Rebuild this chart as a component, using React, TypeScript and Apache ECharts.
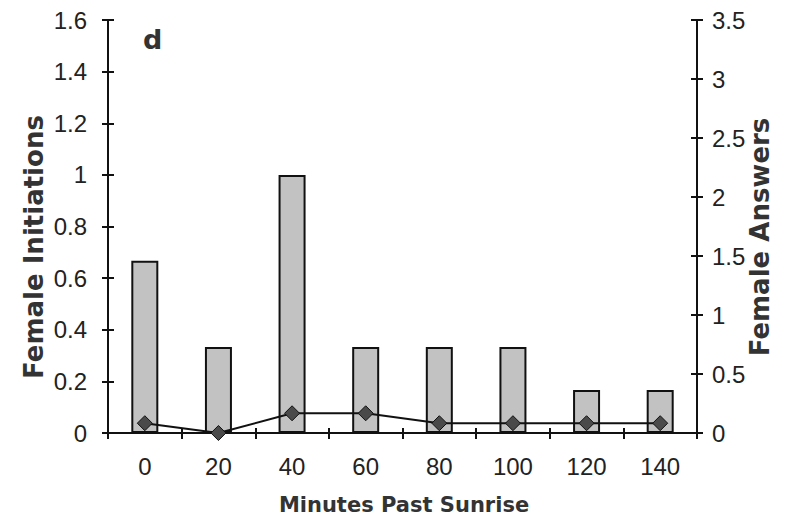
import React, { useEffect, useRef } from "react";
import * as echarts from "echarts";

const categories = ["0", "20", "40", "60", "80", "100", "120", "140"];
const femaleInitiations = [0.667, 0.333, 1.0, 0.333, 0.333, 0.333, 0.167, 0.167];
const femaleAnswers = [0.083, 0, 0.167, 0.167, 0.083, 0.083, 0.083, 0.083];
const panelLabel = "d";
const xTitle = "Minutes Past Sunrise";
const leftTitle = "Female Initiations";
const rightTitle = "Female Answers";

const FONT = "'Liberation Sans', Arial, sans-serif";
const BOLD = "'DejaVu Sans', sans-serif";

export default function App() {
  const ref = useRef<HTMLDivElement>(null);
  useEffect(() => {
    if (!ref.current) return;
    const chart = echarts.init(ref.current, undefined, { renderer: "svg" });
    const axisLine = { show: true, lineStyle: { color: "#111", width: 2 } };
    const label = { color: "#222", fontFamily: FONT, fontSize: 24 };
    const tickOut = { show: true, length: 6, lineStyle: { color: "#111", width: 2 } };
    const tickIn = { show: true, inside: true, length: 6, lineStyle: { color: "#111", width: 2 } };
    chart.setOption({
      animation: false,
      backgroundColor: "#fff",
      grid: { left: 108, right: 98, top: 20, bottom: 92 },
      graphic: [
        {
          type: "text",
          x: 143,
          y: 26,
          style: { text: panelLabel, font: `bold 27px ${BOLD}`, fill: "#333", verticalAlign: "top" },
        },
        {
          type: "text",
          x: 34,
          y: 247,
          rotation: Math.PI / 2,
          style: {
            text: leftTitle,
            font: `bold 26px ${BOLD}`,
            fill: "#333",
            align: "center",
            verticalAlign: "middle",
          },
        },
        {
          type: "text",
          x: 760,
          y: 237,
          rotation: Math.PI / 2,
          style: {
            text: rightTitle,
            font: `bold 26px ${BOLD}`,
            fill: "#333",
            align: "center",
            verticalAlign: "middle",
          },
        },
        {
          type: "text",
          x: 404,
          y: 505,
          style: {
            text: xTitle,
            font: `bold 21px ${BOLD}`,
            fill: "#333",
            align: "center",
            verticalAlign: "middle",
          },
        },
      ],
      xAxis: [
        {
          type: "category",
          data: categories,
          position: "bottom",
          axisLine,
          axisTick: tickOut,
          axisLabel: { ...label, margin: 21 },
          splitLine: { show: false },
        },
        {
          type: "category",
          data: categories,
          position: "bottom",
          axisLine: { show: false },
          axisTick: { ...tickIn, length: 5 },
          axisLabel: { show: false },
          splitLine: { show: false },
        },
      ],
      yAxis: [
        {
          type: "value",
          min: 0,
          max: 1.6,
          interval: 0.2,
          position: "left",
          axisLine,
          axisTick: tickOut,
          axisLabel: { ...label, margin: 21 },
          splitLine: { show: false },
        },
        {
          type: "value",
          min: 0,
          max: 3.5,
          interval: 0.5,
          position: "right",
          axisLine,
          axisTick: tickOut,
          axisLabel: { ...label, margin: 15 },
          splitLine: { show: false },
        },
        {
          type: "value",
          min: 0,
          max: 1.6,
          interval: 0.2,
          position: "left",
          axisLine: { show: false },
          axisTick: tickIn,
          axisLabel: { show: false },
          splitLine: { show: false },
        },
        {
          type: "value",
          min: 0,
          max: 3.5,
          interval: 0.5,
          position: "right",
          axisLine: { show: false },
          axisTick: tickIn,
          axisLabel: { show: false },
          splitLine: { show: false },
        },
      ],
      series: [
        {
          type: "bar",
          name: leftTitle,
          data: femaleInitiations,
          xAxisIndex: 0,
          yAxisIndex: 0,
          barWidth: 27,
          itemStyle: { color: "#c2c2c2", borderColor: "#111", borderWidth: 2 },
        },
        {
          type: "line",
          name: rightTitle,
          data: femaleAnswers,
          xAxisIndex: 0,
          yAxisIndex: 1,
          symbol: "diamond",
          symbolSize: 15,
          lineStyle: { color: "#111", width: 2 },
          itemStyle: { color: "#4a4a4a", borderColor: "#111", borderWidth: 1 },
          z: 5,
        },
      ],
    });
    return () => chart.dispose();
  }, []);
  return (
    <div
      ref={ref}
      style={{ position: "fixed", left: 0, top: 0, width: 795, height: 525, background: "#fff" }}
    />
  );
}
